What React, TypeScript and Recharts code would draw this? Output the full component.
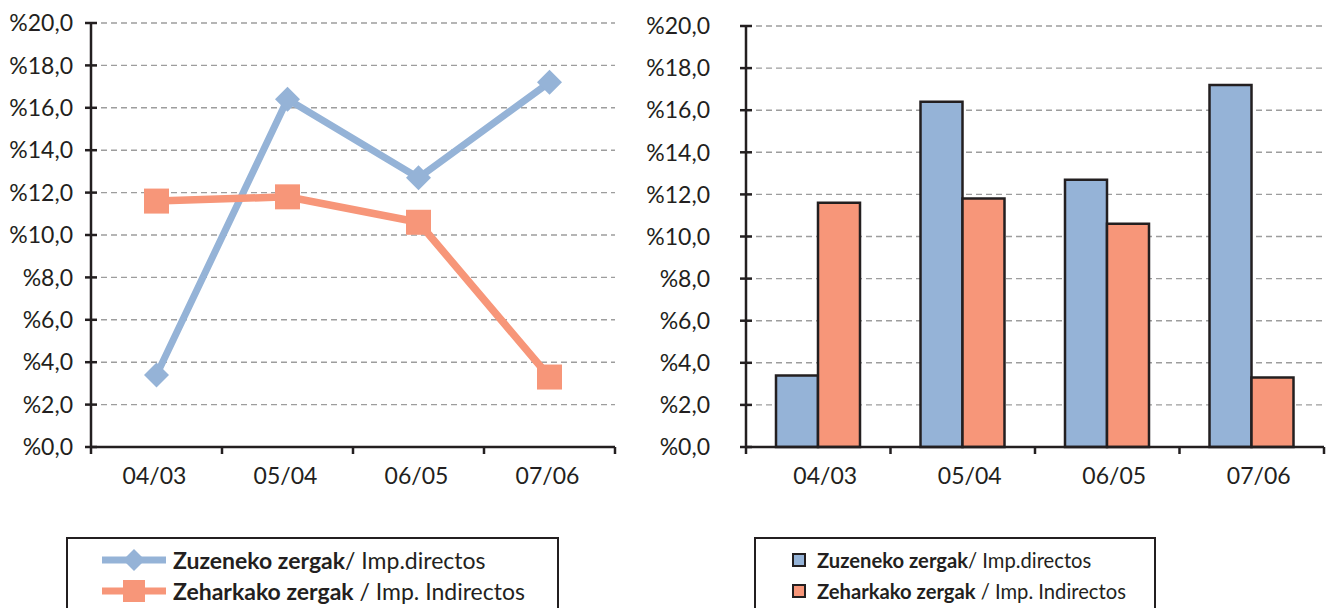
import React from "react";
import {
  LineChart,
  Line,
  BarChart,
  Bar,
  XAxis,
  YAxis,
  CartesianGrid,
} from "recharts";

const categories = ["04/03", "05/04", "06/05", "07/06"];
const zuzeneko = [3.4, 16.4, 12.7, 17.2];
const zeharkako = [11.6, 11.8, 10.6, 3.3];
const yTicks = [0, 2, 4, 6, 8, 10, 12, 14, 16, 18, 20];

const data = categories.map((cat, i) => ({
  cat,
  zuzeneko: zuzeneko[i],
  zeharkako: zeharkako[i],
}));

const BLUE = "#95b3d7";
const ORANGE = "#f79679";
const DARK = "#231f20";
const GRID = "#9d9d9d";
const FONT = "Lato, 'Open Sans', sans-serif";

const fmt = (v: number) => "%" + v.toFixed(1).replace(".", ",");

const makeYTick = (gap: number) => (props: any) => {
  const { x, y, payload } = props;
  const ax = x + gap;
  return (
    <g>
      <line x1={ax - 6} x2={ax + 6} y1={y} y2={y} stroke={DARK} strokeWidth={2.5} />
      <text x={x} y={y} dy="0.36em" textAnchor="end" fill={DARK} fontSize={23} fontFamily={FONT}>
        {fmt(payload.value)}
      </text>
    </g>
  );
};

const makeXTick = (dx: number, band: number) => (props: any) => {
  const { x, y, payload, index } = props;
  const off = payload?.offset || band / 2;
  return (
    <g>
      <line x1={x - off} x2={x - off} y1={y} y2={y + 7} stroke={DARK} strokeWidth={2.5} />
      {index === categories.length - 1 && (
        <line x1={x + off} x2={x + off} y1={y} y2={y + 7} stroke={DARK} strokeWidth={2.5} />
      )}
      <text x={x + dx} y={y + 29} dy="0.36em" textAnchor="middle" fill={DARK} fontSize={23} fontFamily={FONT}>
        {payload.value}
      </text>
    </g>
  );
};

const Diamond = (props: any) => {
  const { cx, cy, index } = props;
  const r = 12.5;
  return (
    <path
      key={"d" + index}
      d={`M${cx},${cy - r}L${cx + r},${cy}L${cx},${cy + r}L${cx - r},${cy}Z`}
      fill={BLUE}
    />
  );
};

const Square = (props: any) => {
  const { cx, cy, index } = props;
  const s = 12.5;
  return <rect key={"s" + index} x={cx - s} y={cy - s} width={s * 2} height={s * 2} fill={ORANGE} />;
};

function LegendBox({ left, width, line, fontSize }: { left: number; width: number; line: boolean; fontSize: number }) {
  const rows = [
    { color: BLUE, bold: "Zuzeneko zergak", rest: "/ Imp.directos", shape: "diamond" },
    { color: ORANGE, bold: "Zeharkako zergak", rest: " / Imp. Indirectos", shape: "square" },
  ];
  return (
    <div
      style={{
        position: "absolute",
        left,
        top: 537,
        width,
        height: 100,
        border: `2.5px solid ${DARK}`,
        boxSizing: "border-box",
        fontFamily: FONT,
        color: DARK,
        fontSize,
      }}
    >
      {rows.map((r, i) => (
        <div
          key={r.bold}
          style={{
            position: "absolute",
            top: 6 + i * 30.5,
            left: line ? 34 : 36,
            height: 30,
            display: "flex",
            alignItems: "center",
            whiteSpace: "pre",
          }}
        >
          {line ? (
            <svg width={64} height={26} style={{ marginRight: 7 }}>
              <line x1={0} x2={64} y1={13} y2={13} stroke={r.color} strokeWidth={7} />
              {r.shape === "diamond" ? (
                <path d="M32,2L43,13L32,24L21,13Z" fill={r.color} />
              ) : (
                <rect x={21} y={2} width={22} height={22} fill={r.color} />
              )}
            </svg>
          ) : (
            <svg width={14} height={14} style={{ marginRight: 11 }}>
              <rect x={1} y={1} width={12} height={12} fill={r.color} stroke={DARK} strokeWidth={2} />
            </svg>
          )}
          <span style={{ fontWeight: 700 }}>{r.bold}</span>
          <span>{r.rest}</span>
        </div>
      ))}
    </div>
  );
}

export default function App() {
  return (
    <div style={{ position: "fixed", left: 0, top: 0, width: 1332, height: 608, background: "#fff", overflow: "hidden" }}>
      <div style={{ position: "absolute", left: 0, top: 0 }}>
        <LineChart width={640} height={500} data={data} margin={{ top: 23, right: 25, left: 0, bottom: 0 }}>
          <CartesianGrid vertical={false} stroke={GRID} strokeDasharray="6 4" strokeWidth={1.4} />
          <XAxis
            dataKey="cat"
            scale="band"
            height={53}
            axisLine={{ stroke: DARK, strokeWidth: 2.5 }}
            tickLine={false}
            tickSize={0}
            tickMargin={0}
            interval={0}
            tick={makeXTick(-2, 131)}
          />
          <YAxis
            domain={[0, 20]}
            ticks={yTicks}
            width={91}
            axisLine={{ stroke: DARK, strokeWidth: 2.5 }}
            tickLine={false}
            tickSize={0}
            tickMargin={18}
            interval={0}
            tick={makeYTick(18)}
          />
          <Line dataKey="zuzeneko" stroke={BLUE} strokeWidth={7} dot={Diamond} activeDot={false} isAnimationActive={false} />
          <Line dataKey="zeharkako" stroke={ORANGE} strokeWidth={7.5} dot={Square} activeDot={false} isAnimationActive={false} />
        </LineChart>
      </div>
      <div style={{ position: "absolute", left: 640, top: 0 }}>
        <BarChart
          width={692}
          height={500}
          data={data}
          margin={{ top: 26, right: 8, left: 0, bottom: 0 }}
          barCategoryGap={30}
          barGap={0}
        >
          <CartesianGrid vertical={false} stroke={GRID} strokeDasharray="6 4" strokeWidth={1.4} />
          <XAxis
            dataKey="cat"
            height={53}
            axisLine={{ stroke: DARK, strokeWidth: 2.5 }}
            tickLine={false}
            tickSize={0}
            tickMargin={0}
            interval={0}
            tick={makeXTick(7, 144.5)}
          />
          <YAxis
            domain={[0, 20]}
            ticks={yTicks}
            width={106}
            axisLine={{ stroke: DARK, strokeWidth: 2.5 }}
            tickLine={false}
            tickSize={0}
            tickMargin={36}
            interval={0}
            tick={makeYTick(36)}
          />
          <Bar dataKey="zuzeneko" fill={BLUE} stroke={DARK} strokeWidth={2.5} isAnimationActive={false} />
          <Bar dataKey="zeharkako" fill={ORANGE} stroke={DARK} strokeWidth={2.5} isAnimationActive={false} />
        </BarChart>
      </div>
      <LegendBox left={66} width={493} line fontSize={23} />
      <LegendBox left={754} width={402} line={false} fontSize={20.2} />
    </div>
  );
}
